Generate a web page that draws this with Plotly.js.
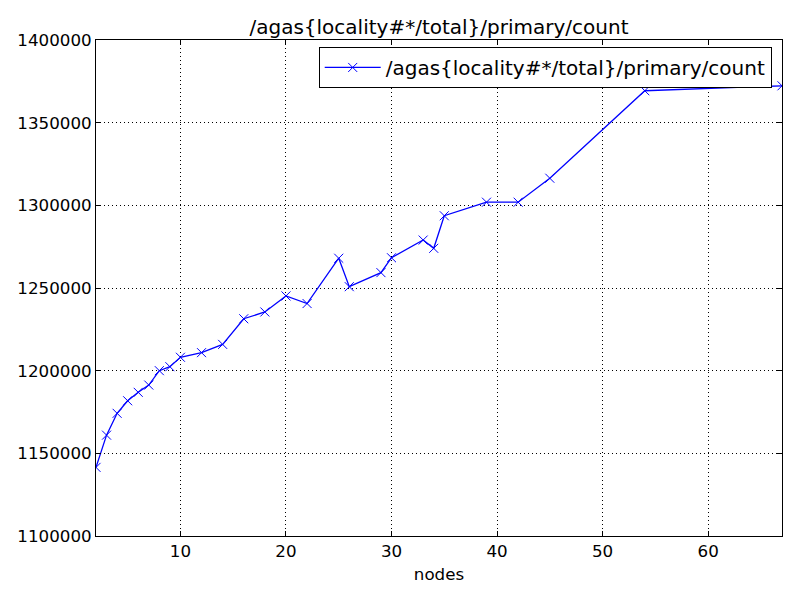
<!DOCTYPE html>
<html>
<head>
<meta charset="utf-8">
<script src="https://cdn.plot.ly/plotly-3.0.1.min.js"></script>
<style>
  html, body { margin: 0; padding: 0; background: #fff; }
  #chart { width: 800px; height: 600px; }
</style>
</head>
<body>
<div id="chart"></div>
<script>
// nodes vs. primary count
const nodes = [2, 3, 4, 5, 6, 7, 8, 9, 10, 12, 14, 16, 18, 20, 22, 25, 26, 29, 30, 33, 34, 35, 39, 42, 45, 54, 67];
const counts = [1141500, 1161000, 1174200, 1181800, 1186900, 1191300, 1200000, 1202400, 1208100,
  1210900, 1215900, 1231400, 1235500, 1245200, 1240600, 1268000, 1250800, 1259300, 1268300,
  1279000, 1274000, 1293700, 1301900, 1301900, 1316400, 1369300, 1372300];
const seriesName = '/agas{locality#*/total}/primary/count';

const font = 'DejaVu Sans, sans-serif';

const trace = {
  x: nodes,
  y: counts,
  type: 'scatter',
  mode: 'lines+markers',
  name: seriesName,
  line: {color: '#0000ff', width: 1.3},
  marker: {symbol: 'x-thin', size: 9, color: '#0000ff', line: {color: '#0000ff', width: 1}},
  cliponaxis: true
};

const axisCommon = {
  showline: true,
  linecolor: '#000',
  linewidth: 1,
  mirror: 'ticks',
  ticks: 'inside',
  ticklen: 5,
  tickcolor: '#000',
  showgrid: true,
  gridcolor: '#000',
  gridwidth: 1,
  griddash: '1px,3px',
  zeroline: false,
  tickfont: {family: font, size: 16.7, color: '#000'}
};

const layout = {
  width: 800,
  height: 600,
  margin: {l: 96, r: 18, t: 40, b: 64},
  paper_bgcolor: '#fff',
  plot_bgcolor: '#fff',
  font: {family: font, color: '#000'},
  title: {
    text: seriesName,
    font: {family: font, size: 20, color: '#000'},
    xref: 'paper', x: 0.5, xanchor: 'center',
    yref: 'container', y: 1 - 27 / 600, yanchor: 'middle'
  },
  xaxis: Object.assign({}, axisCommon, {
    range: [2, 67],
    tick0: 0,
    dtick: 10,
    title: {text: 'nodes', font: {family: font, size: 16.7, color: '#000'}, standoff: 8}
  }),
  yaxis: Object.assign({}, axisCommon, {
    range: [1100000, 1400000],
    dtick: 50000,
    tickformat: 'd'
  }),
  showlegend: true,
  legend: {
    x: 0.985, xanchor: 'right',
    y: 0.986, yanchor: 'top',
    bgcolor: '#fff',
    bordercolor: '#000',
    borderwidth: 1,
    itemwidth: 56,
    font: {family: font, size: 20, color: '#000'}
  }
};

Plotly.newPlot('chart', [trace], layout, {displayModeBar: false, staticPlot: true});
</script>
</body>
</html>
